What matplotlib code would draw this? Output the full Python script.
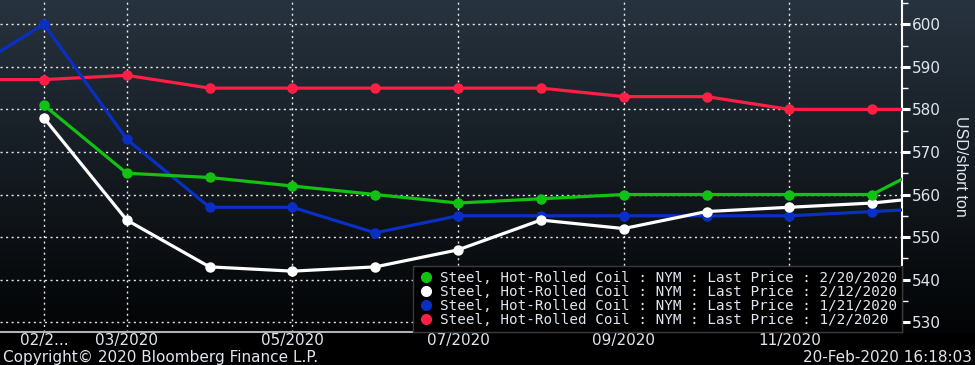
import matplotlib
matplotlib.use('Agg')
import matplotlib.pyplot as plt
from matplotlib.lines import Line2D
from matplotlib.ticker import MultipleLocator
import numpy as np

nan = np.nan

# contract months, Jan 2020 .. Jan 2021
months = ['01/2020', '02/2020', '03/2020', '04/2020', '05/2020', '06/2020', '07/2020',
          '08/2020', '09/2020', '10/2020', '11/2020', '12/2020', '01/2021']
tick_idx = [1, 2, 4, 6, 8, 10]
tick_labels = ['02/2...', '03/2020', '05/2020', '07/2020', '09/2020', '11/2020']

curve_0220 = [nan, 581, 565, 564, 562, 560, 558, 559, 560, 560, 560, 560, 570]
curve_0212 = [nan, 578, 554, 543, 542, 543, 547, 554, 552, 556, 557, 558, 560]
curve_0121 = [588, 600, 573, 557, 557, 551, 555, 555, 555, 555, 555, 556, 557]
curve_0102 = [587, 587, 588, 585, 585, 585, 585, 585, 583, 583, 580, 580, 580]

series = [
    ('Steel, Hot-Rolled Coil : NYM : Last Price : 2/20/2020', curve_0220, '#12c212'),
    ('Steel, Hot-Rolled Coil : NYM : Last Price : 2/12/2020', curve_0212, '#ffffff'),
    ('Steel, Hot-Rolled Coil : NYM : Last Price : 1/21/2020', curve_0121, '#0a2fc4'),
    ('Steel, Hot-Rolled Coil : NYM : Last Price : 1/2/2020', curve_0102, '#ff1f45'),
]

txt = '#dfe6ee'

fig = plt.figure(figsize=(9.75, 3.65), dpi=100, facecolor='black')

# background gradient (dark slate at top -> black at the x axis)
bg = fig.add_axes([0, 0, 1, 1], zorder=-10)
bg.axis('off')
h = 365
top = np.array([0x27, 0x33, 0x3f]) / 255.0
bot = np.array([0x02, 0x03, 0x04]) / 255.0
t = np.clip(np.arange(h) / 333.0, 0, 1)[:, None]
grad = top * (1 - t) + bot * t
grad[333:] = 0
bg.imshow(grad[:, None, :], aspect='auto', extent=[0, 1, 0, 1])

ax = fig.add_axes([0.0, 33 / 365, 902 / 975, 332 / 365])
ax.set_facecolor('none')

x = np.arange(len(months))
for label, vals, col in series[::-1]:
    ax.plot(x, vals, color=col, lw=2.3, marker='o', ms=6.5, label=label, zorder=3)

ax.set_xlim(0.47, 11.36)
ax.set_ylim(527.7, 605.7)

ax.set_xticks(tick_idx)
ax.set_xticklabels(tick_labels)
ax.yaxis.tick_right()
ax.yaxis.set_label_position('right')
ax.yaxis.set_major_locator(MultipleLocator(10))
ax.yaxis.set_minor_locator(MultipleLocator(5))

ax.tick_params(axis='x', length=0, pad=1, labelsize=11, labelcolor=txt)
ax.tick_params(axis='y', which='major', length=6, width=2.2, color='white',
               labelsize=11, labelcolor=txt, pad=1)
ax.tick_params(axis='y', which='minor', length=4, width=1, color='white')

ax.grid(True, which='major', color='white', lw=1, ls=(0, (1.5, 2.5)), alpha=0.9)
ax.set_axisbelow(True)

for s in ['left', 'top']:
    ax.spines[s].set_visible(False)
ax.spines['right'].set_color('white')
ax.spines['right'].set_linewidth(1.5)
ax.spines['bottom'].set_color('#b0b0b0')
ax.spines['bottom'].set_linewidth(1.5)

ax.set_ylabel('USD/short ton', rotation=270, color=txt, fontsize=11.5,
              family=['Liberation Sans', 'DejaVu Sans'], labelpad=20)

handles = [Line2D([], [], ls='none', marker='o', ms=7, color=c) for _, _, c in series]
labels = [l for l, _, _ in series]
leg = ax.legend(handles, labels, loc='lower right', borderaxespad=0, frameon=True,
                fancybox=False, facecolor='black', edgecolor='#3a3a3a', framealpha=1,
                prop={'family': 'DejaVu Sans Mono', 'size': 10.3},
                handlelength=1.0, handletextpad=0.5, labelspacing=0.0,
                borderpad=0.35, labelcolor=txt)
leg.set_zorder(5)

fig.text(0.003, 0.0, 'Copyright\u00a9 2020 Bloomberg Finance L.P.', color=txt,
         fontsize=11, ha='left', va='bottom')
fig.text(0.997, 0.0, '20-Feb-2020 16:18:03', color=txt, fontsize=11,
         ha='right', va='bottom')

fig.savefig('out.png', dpi=100, facecolor='black')
